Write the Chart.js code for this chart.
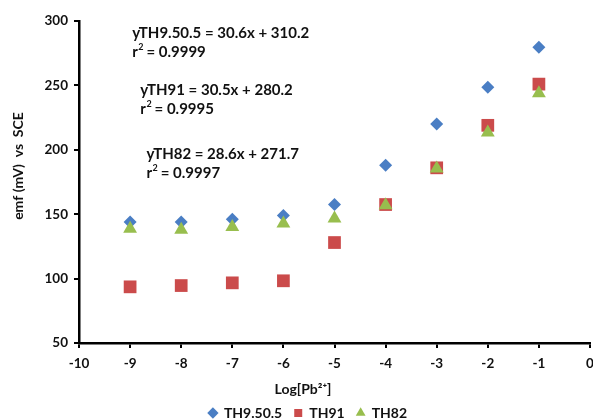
<!DOCTYPE html>
<html>
<head>
<meta charset="utf-8">
<script src="https://cdn.jsdelivr.net/npm/chart.js@4/dist/chart.umd.min.js"></script>
<style>
  html, body { margin: 0; padding: 0; background: #fff; }
  #wrap { width: 593px; height: 419px; }
</style>
</head>
<body>
<div id="wrap"><canvas id="emfChart"></canvas></div>
<script>
// valores
const logPb = [-9, -8, -7, -6, -5, -4, -3, -2, -1];
const th9505 = [144, 144, 146, 149, 157.5, 188, 220, 248.6, 279.7];
const th91 = [93.6, 94.6, 96.7, 98.3, 128, 157.5, 186, 219, 251];
const th82 = [138.8, 138, 140, 142.7, 146.6, 157, 185.5, 213.5, 244];
const seriesNames = ['TH9.50.5', 'TH91', 'TH82'];
const yTicks = [50, 100, 150, 200, 250, 300];
const xTitle = 'Log[Pb²⁺]';
const yTitle = 'emf (mV)  vs  SCE';

// equações de regressão escritas no gráfico
const equations = [
    { text: 'yTH9.50.5 = 30.6x + 310.2', r2: '0.9999', x: -8.96, y: 290.5 },
    { text: 'yTH91 = 30.5x + 280.2', r2: '0.9995', x: -8.8, y: 246.5 },
    { text: 'yTH82 = 28.6x + 271.7', r2: '0.9997', x: -8.68, y: 196.5 }
];

function toPoints(xs, ys) {
    return xs.map((x, i) => ({ x: x, y: ys[i] }));
}

const fontFamily = 'Lato, "Open Sans", sans-serif';

// desenha as equações e os títulos dos eixos
const textPlugin = {
    id: 'textos',
    afterLayout(chart) {
        // desce a legenda até a borda de baixo e puxa um pouco para a direita
        chart.legend.top += 11;
        chart.legend.bottom += 11;
        chart.legend.left += 13;
        chart.legend.right += 13;
    },
    afterDatasetsDraw(chart) {
        const ctx = chart.ctx;
        const xs = chart.scales.x;
        const ys = chart.scales.y;
        ctx.save();
        ctx.fillStyle = '#111';
        ctx.textBaseline = 'middle';
        ctx.textAlign = 'left';
        equations.forEach(eq => {
            const px = xs.getPixelForValue(eq.x);
            const py = ys.getPixelForValue(eq.y);
            ctx.font = 'bold 15px ' + fontFamily;
            ctx.fillText(eq.text, px, py);
            // linha do r²
            const ry = py + 19;
            ctx.fillText('r', px, ry);
            const rw = ctx.measureText('r').width;
            ctx.font = 'bold 9px ' + fontFamily;
            ctx.fillText('2', px + rw + 0.5, ry - 5);
            ctx.font = 'bold 15px ' + fontFamily;
            ctx.fillText(' = ' + eq.r2, px + rw + 5, ry);
        });

        // títulos dos eixos
        ctx.font = 'bold 14px ' + fontFamily;
        ctx.textAlign = 'center';
        ctx.fillText(xTitle, 303, 389);
        ctx.translate(18, 166);
        ctx.rotate(-Math.PI / 2);
        ctx.fillText(yTitle, 0, 0);
        ctx.restore();
    }
};

const ctx = document.getElementById('emfChart').getContext('2d');
const emfChart = new Chart(ctx, {
    type: 'scatter',
    data: {
        datasets: [
            {
                label: seriesNames[0],
                data: toPoints(logPb, th9505),
                pointStyle: 'rectRot',
                pointRadius: 6.5,
                pointHoverRadius: 6.5,
                backgroundColor: '#4A7EC4',
                borderColor: '#4A7EC4',
                borderWidth: 0,
                order: 2
            },
            {
                label: seriesNames[1],
                data: toPoints(logPb, th91),
                pointStyle: 'rect',
                pointRadius: 9,
                pointHoverRadius: 9,
                backgroundColor: '#CB4B4B',
                borderColor: '#CB4B4B',
                borderWidth: 0,
                order: 1
            },
            {
                label: seriesNames[2],
                data: toPoints(logPb, th82),
                pointStyle: 'triangle',
                pointRadius: 8,
                pointHoverRadius: 8,
                backgroundColor: '#98BE4E',
                borderColor: '#98BE4E',
                borderWidth: 0,
                order: 0
            }
        ]
    },
    options: {
        responsive: true,
        maintainAspectRatio: false,
        animation: false,
        layout: { autoPadding: false, padding: { top: 21, right: 3, left: 0, bottom: 0 } },
        plugins: {
            tooltip: { enabled: false },
            legend: {
                position: 'bottom',
                labels: {
                    usePointStyle: true,
                    boxWidth: 8,
                    boxHeight: 8,
                    padding: 12,
                    color: '#111',
                    font: { family: fontFamily, size: 14, weight: 'bold' },
                    sort: (a, b) => a.datasetIndex - b.datasetIndex
                }
            }
        },
        scales: {
            x: {
                type: 'linear',
                min: -10,
                max: 0,
                afterFit: scale => {
                    scale.height = 40;
                    scale.paddingLeft = 0;
                    scale.paddingRight = 0;
                },
                ticks: {
                    stepSize: 1,
                    color: '#111',
                    padding: 8,
                    font: { family: fontFamily, size: 13.5, weight: 'bold' }
                },
                grid: { display: true, drawOnChartArea: false, drawTicks: true, tickLength: 5, color: '#000', lineWidth: 2 },
                border: { display: true, color: '#000', width: 2.5 }
            },
            y: {
                type: 'linear',
                min: 50,
                max: 300,
                afterBuildTicks: scale => {
                    scale.ticks = yTicks.map(v => ({ value: v }));
                },
                afterFit: scale => {
                    scale.width = 79;
                    scale.paddingTop = 0;
                    scale.paddingBottom = 0;
                },
                ticks: {
                    color: '#111',
                    padding: 6,
                    font: { family: fontFamily, size: 13.5, weight: 'bold' }
                },
                grid: { display: true, drawOnChartArea: false, drawTicks: true, tickLength: 5, color: '#000', lineWidth: 2 },
                border: { display: true, color: '#000', width: 2.5 }
            }
        }
    },
    plugins: [textPlugin]
});
</script>
</body>
</html>
